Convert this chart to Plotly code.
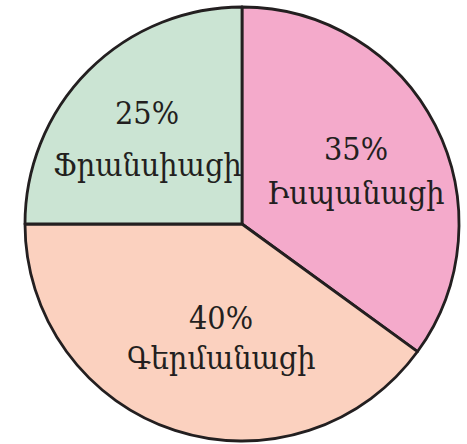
import plotly.graph_objects as go

labels = ["Իսպանացի", "Գերմանացի", "Ֆրանսիացի"]
values = [35, 40, 25]
colors = ["#F4AACB", "#FBD1BF", "#CBE4D3"]

# label anchor positions (pixels in a 467x444 canvas): (x, y_percent, y_name)
label_pos = [(356, 149, 193), (221, 318, 358), (147, 113, 165)]

W, H = 467, 444
fig = go.Figure(go.Pie(
    labels=labels, values=values, sort=False, direction="clockwise", rotation=0,
    marker=dict(colors=colors, line=dict(color="#231F20", width=2.8)),
    textinfo="none", hoverinfo="label+percent", showlegend=False,
    domain=dict(x=[25 / W, 459 / W], y=[3 / H, 437 / H]),
))

font = dict(family="DejaVu Serif Condensed", size=32, color="#231F20")
anns = []
for lab, val, (x, yp, yn) in zip(labels, values, label_pos):
    anns.append(dict(text=f"{val}%", x=x / W, y=1 - yp / H, xref="paper", yref="paper",
                     showarrow=False, font=font, xanchor="center", yanchor="middle"))
    anns.append(dict(text=lab, x=x / W, y=1 - yn / H, xref="paper", yref="paper",
                     showarrow=False, font=font, xanchor="center", yanchor="middle"))

fig.update_layout(width=W, height=H, margin=dict(l=0, r=0, t=0, b=0),
                  paper_bgcolor="white", plot_bgcolor="white", annotations=anns)
fig.write_html("out.html", config={"displayModeBar": False},
               post_script="document.body.style.margin='0';document.body.style.overflow='hidden';")
